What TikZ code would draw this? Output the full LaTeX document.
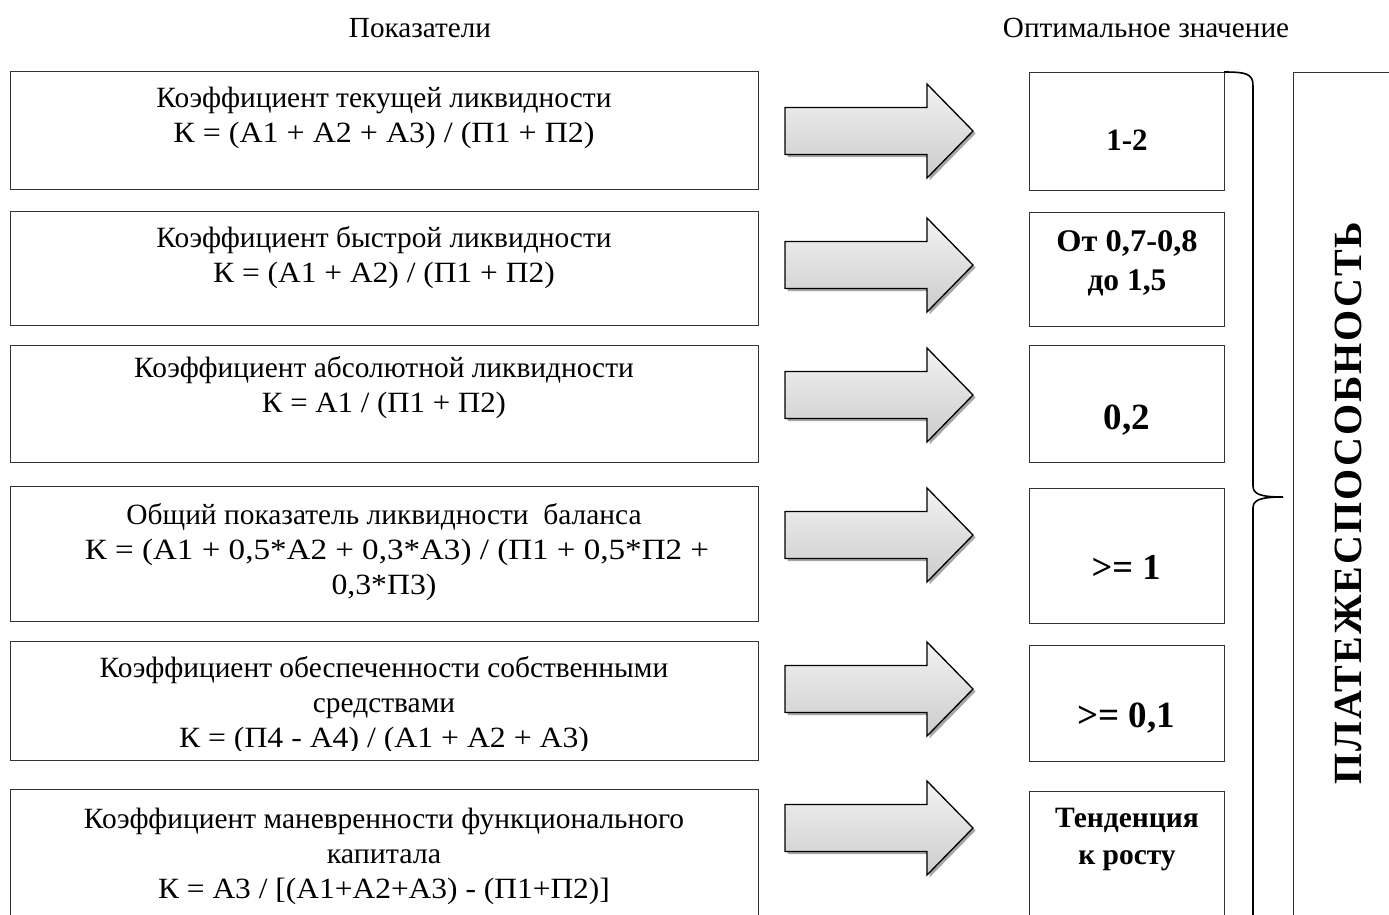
\documentclass[tikz,border=0pt]{standalone}
\usepackage{fontspec}
\setmainfont{Liberation Serif}
\newfontfamily\spacedbold[LetterSpace=5]{Liberation Serif}
\newcommand\fx[2][1.09]{\scalebox{#1}[1]{#2}}
\begin{document}
\begin{tikzpicture}[x=1pt,y=-1pt,
  frame/.style={draw=black!80, line width=1.4pt, fill=white, anchor=north west, inner sep=0pt},
  ltext/.style={align=center, inner sep=0pt, font=\fontsize{29.4}{35}\selectfont},
  rtext/.style={align=center, inner sep=0pt, font=\fontsize{31}{39}\selectfont\bfseries},
  head/.style={inner sep=0pt, font=\fontsize{29.2}{32}\selectfont},
  arrowbody/.style={draw=black, line width=1.3pt, line join=miter, top color=gray!10, bottom color=gray!40},
  arrowshadow/.style={fill=black!35},
  bracestyle/.style={draw=black, line width=1.6pt}
]
\useasboundingbox (0,0) rectangle (1389,914);
\clip (0,0) rectangle (1389,914);
\fill[white] (0,0) rectangle (1389,914);

% headers
\node[head] (h1) at (420,28) {Показатели};
\node[head] (h2) at (1146,28) {Оптимальное значение};

% left boxes
\node[frame, minimum width=748, minimum height=118] (l1) at (10,71) {};
\node[frame, minimum width=748, minimum height=114] (l2) at (10,211) {};
\node[frame, minimum width=748, minimum height=117] (l3) at (10,345) {};
\node[frame, minimum width=748, minimum height=135] (l4) at (10,486) {};
\node[frame, minimum width=748, minimum height=119] (l5) at (10,641) {};
\node[frame, minimum width=748, minimum height=160] (l6) at (10,789) {};

\node[ltext] (t1) at (384,118) {Коэффициент текущей ликвидности\\\fx{К = (А1 + А2 + А3) / (П1 + П2)}};
\node[ltext] (t2) at (384,258) {Коэффициент быстрой ликвидности\\\fx[1.07]{К = (А1 + А2) / (П1 + П2)}};
\node[ltext] (t3) at (384,388) {Коэффициент абсолютной ликвидности\\\fx[1.05]{К = А1 / (П1 + П2)}};
\node[ltext] (t4) at (384,552) {Общий показатель ликвидности\ \ баланса\\\kern26pt\fx[1.125]{К = (А1 + 0,5*А2 + 0,3*А3) / (П1 + 0,5*П2 +}\\\fx[1.08]{0,3*П3)}};
\begin{scope}
\clip (10,641) rectangle (758,750);
\node[ltext] (t5) at (384,705.5) {Коэффициент обеспеченности собственными\\средствами\\\fx[1.08]{К = (П4 - А4) / (А1 + А2 + А3)}};
\end{scope}
\node[ltext] (t6) at (384,856) {Коэффициент маневренности функционального\\\fx[1.02]{капитала}\\\fx[1.07]{К = А3 / [(А1+А2+А3) - (П1+П2)]}};

% arrows
\foreach \yy/\nm in {131/a1,265/a2,395/a3,535/a4,689/a5,828/a6}{
  \fill[arrowshadow] (787.5,\yy-21) -- (929.5,\yy-21) -- (929.5,\yy-44.5) -- (975.5,\yy+2.5) -- (929.5,\yy+49.5) -- (929.5,\yy+26) -- (787.5,\yy+26) -- cycle;
  \path[arrowbody] (785,\yy-23.5) -- (927,\yy-23.5) -- (927,\yy-47) -- (973,\yy) -- (927,\yy+47) -- (927,\yy+23.5) -- (785,\yy+23.5) -- cycle;
  \coordinate (\nm) at (973,\yy);
}

% right boxes
\node[frame, minimum width=195, minimum height=118] (r1) at (1029,72) {};
\node[frame, minimum width=195, minimum height=114] (r2) at (1029,212) {};
\node[frame, minimum width=195, minimum height=117] (r3) at (1029,345) {};
\node[frame, minimum width=195, minimum height=135] (r4) at (1029,488) {};
\node[frame, minimum width=195, minimum height=116] (r5) at (1029,645) {};
\node[frame, minimum width=195, minimum height=160] (r6) at (1029,791) {};

\node[rtext] (v1) at (1127,140) {1-2};
\node[rtext, font=\fontsize{31.5}{39}\selectfont\bfseries] (v2) at (1127,263) {\fx[1.03]{От 0,7-0,8}\\до 1,5};
\node[rtext, font=\fontsize{37}{40}\selectfont\bfseries] (v3) at (1127,420) {0,2};
\node[rtext, font=\fontsize{36.5}{40}\selectfont\bfseries] (v4) at (1126,567) {>= 1};
\node[rtext, font=\fontsize{37}{40}\selectfont\bfseries] (v5) at (1126,718) {>= 0,1};
\node[rtext, font=\fontsize{29.5}{37}\selectfont\bfseries] (v6) at (1127,840) {Тенденция\\к росту};

% brace
\coordinate (bt) at (1224,72);
\coordinate (bm) at (1283,497);
\coordinate (bb) at (1253,940);
\draw[bracestyle] (bt) .. controls (1247,72) and (1253,74) .. (1253,86)
  -- (1253,486) .. controls (1253,494) and (1260,497) .. (bm)
  (bm) .. controls (1260,497) and (1253,500) .. (1253,508) -- (bb);

% big box
\node[frame, minimum width=140, minimum height=900] (pay) at (1293,72) {};
\node[inner sep=0pt, rotate=90, font=\fontsize{40}{44}\spacedbold\bfseries] (payt) at (1348,503) {ПЛАТЕЖЕСПОСОБНОСТЬ};
\end{tikzpicture}
\end{document}
